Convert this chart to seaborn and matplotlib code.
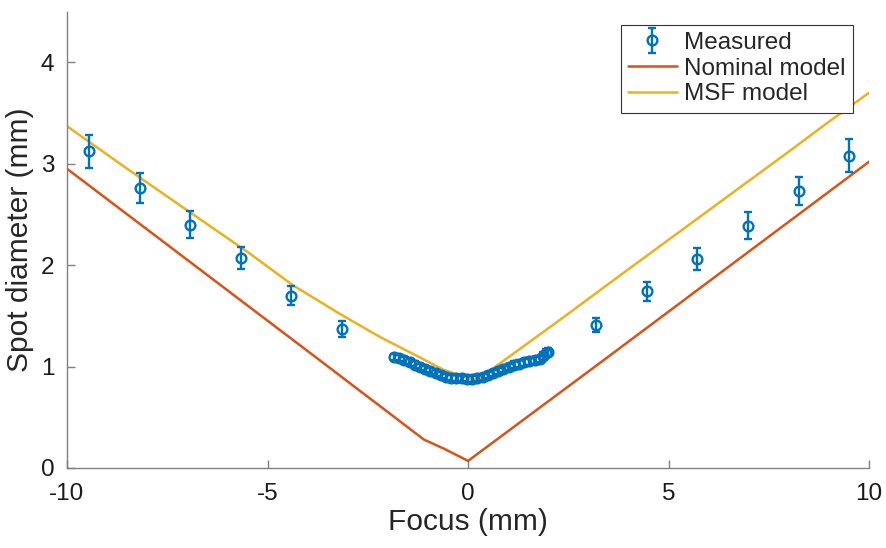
import numpy as np
import pandas as pd
import matplotlib
matplotlib.use("Agg")
import matplotlib.pyplot as plt
import seaborn as sns

# measured spot diameter (mm) vs focus (mm)
meas_x = [-9.45, -8.19, -6.93, -5.67, -4.41, -3.15,
          -1.85, -1.72, -1.59, -1.46, -1.33, -1.20, -1.07, -0.94, -0.81, -0.68,
          -0.55, -0.42, -0.29, -0.16, -0.03, 0.10, 0.23, 0.36, 0.49, 0.62,
          0.75, 0.88, 1.01, 1.14, 1.27, 1.40, 1.53, 1.66, 1.79, 1.88, 1.94, 2.00,
          3.20, 4.46, 5.72, 6.98, 8.24, 9.50]
meas_y = [3.12, 2.76, 2.40, 2.07, 1.70, 1.37,
          1.09, 1.08, 1.06, 1.04, 1.02, 1.00, 0.98, 0.96, 0.94, 0.92,
          0.90, 0.89, 0.89, 0.89, 0.88, 0.88, 0.89, 0.90, 0.92, 0.94,
          0.96, 0.98, 1.00, 1.02, 1.03, 1.04, 1.05, 1.06, 1.07, 1.10, 1.13, 1.14,
          1.41, 1.74, 2.06, 2.39, 2.73, 3.08]
meas_err = [0.16, 0.15, 0.13, 0.11, 0.09, 0.08,
            0.03, 0.03, 0.03, 0.03, 0.03, 0.03, 0.03, 0.03, 0.03, 0.03,
            0.03, 0.03, 0.03, 0.03, 0.03, 0.03, 0.03, 0.03, 0.03, 0.03,
            0.03, 0.03, 0.03, 0.03, 0.03, 0.03, 0.03, 0.03, 0.03, 0.04, 0.04, 0.04,
            0.07, 0.09, 0.11, 0.13, 0.14, 0.16]

nominal_x = [-10.0, -3.69, -1.10, -0.60, 0.0, 3.37, 10.0]
nominal_y = [2.95, 1.06, 0.28, 0.19, 0.07, 1.06, 3.02]

msf_x = [-10.0, -8.5, -6.93, -5.5, -4.36, -3.2, -2.19, -1.3, -0.62, 0.1, 0.3,
         1.0, 2.29, 4.0, 6.0, 8.0, 8.95, 10.0]
msf_y = [3.37, 2.95, 2.52, 2.13, 1.80, 1.52, 1.29, 1.11, 0.97, 0.87, 0.89,
         1.09, 1.46, 1.96, 2.54, 3.12, 3.40, 3.70]

sns.set_style("white")
plt.rcParams['font.family'] = ['Liberation Sans', 'DejaVu Sans']

blue = '#0072BD'
red = '#D95319'
yellow = '#EDB120'
axcol = '#808080'

fig = plt.figure(figsize=(8.86, 5.48), dpi=100)
ax = fig.add_axes([0.0756, 0.146, 0.9054, 0.833])

eb = ax.errorbar(meas_x, meas_y, yerr=meas_err, fmt='o', color=blue,
                 mfc='none', mec=blue, ms=7, mew=1.7, elinewidth=1.7,
                 capsize=3.2, capthick=1.7, label='Measured', zorder=3)

nom = pd.DataFrame({'x': nominal_x, 'y': nominal_y})
msf = pd.DataFrame({'x': msf_x, 'y': msf_y})
sns.lineplot(data=nom, x='x', y='y', ax=ax, color=red, lw=1.8,
             label='Nominal model', sort=False, zorder=2)
sns.lineplot(data=msf, x='x', y='y', ax=ax, color=yellow, lw=1.8,
             label='MSF model', sort=False, zorder=2)

ax.set_xlim(-10, 10)
ax.set_ylim(0, 4.5)
ax.set_xticks([-10, -5, 0, 5, 10])
ax.set_xticklabels(['-10', '-5', '0', '5', '10'])
ax.set_yticks([0, 1, 2, 3, 4])
ax.set_xlabel('Focus (mm)', fontsize=21.5, labelpad=2)
ax.set_ylabel('Spot diameter (mm)', fontsize=21.5, labelpad=5)
ax.tick_params(direction='in', length=6, width=1.0, labelsize=17.5,
               colors='#1a1a1a', bottom=True, left=True)
ax.tick_params(axis='x', pad=11)
ax.tick_params(axis='y', pad=9)
for s in ['top', 'right']:
    ax.spines[s].set_visible(False)
for s in ['left', 'bottom']:
    ax.spines[s].set_color(axcol)
    ax.spines[s].set_linewidth(1.0)
ax.tick_params(axis='both', color=axcol)

handles, labels = ax.get_legend_handles_labels()
order = [labels.index(l) for l in ['Measured', 'Nominal model', 'MSF model']]
leg = ax.legend([handles[i] for i in order], [labels[i] for i in order],
                loc='upper right', bbox_to_anchor=(0.9855, 0.982),
                fontsize=17.5, frameon=True, fancybox=False,
                edgecolor='#333333', framealpha=1, handlelength=2.0,
                borderpad=0.3, labelspacing=0.15, handletextpad=0.3,
                borderaxespad=0.2)
leg.get_frame().set_linewidth(0.8)

fig.savefig('out.png', dpi=100, facecolor='white')
